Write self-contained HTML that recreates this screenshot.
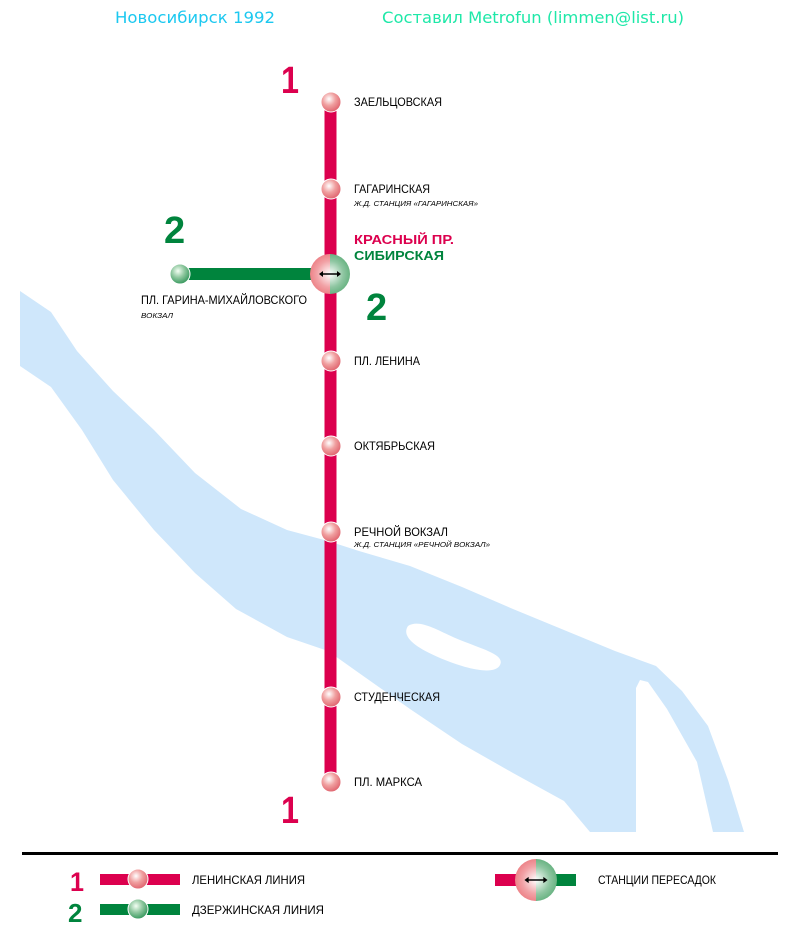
<!DOCTYPE html>
<html><head><meta charset="utf-8"><style>
html,body{margin:0;padding:0;background:#fff;width:800px;height:950px;overflow:hidden}
</style></head><body>
<svg width="800" height="950" viewBox="0 0 800 950" xmlns="http://www.w3.org/2000/svg" font-family="Liberation Sans, sans-serif">
<defs>
<radialGradient id="rg" cx="40%" cy="35%" r="65%"><stop offset="0" stop-color="#fff"/><stop offset="0.5" stop-color="#f0a0a0"/><stop offset="1" stop-color="#e06670"/></radialGradient>
<radialGradient id="gg" cx="40%" cy="35%" r="65%"><stop offset="0" stop-color="#f4fff4"/><stop offset="0.5" stop-color="#90c8a0"/><stop offset="1" stop-color="#3a9a60"/></radialGradient>
<radialGradient id="ig" cx="50%" cy="50%" r="55%"><stop offset="0" stop-color="#fff"/><stop offset="0.6" stop-color="#fff" stop-opacity="0.3"/><stop offset="1" stop-color="#fff" stop-opacity="0"/></radialGradient>
<g id="ic">
<path d="M0,-20 A20,20 0 0 0 0,20 Z" fill="#ec7a80"/>
<path d="M0,-20 A20,20 0 0 1 0,20 Z" fill="#5fae7a"/>
<circle r="20" fill="url(#ig)"/>
<line x1="-9" y1="0" x2="9" y2="0" stroke="#000" stroke-width="1.5"/>
<path d="M-11,0 l4,-3 v6z M11,0 l-4,-3 v6z" fill="#000"/>
</g>
</defs>
<text x="115" y="23" font-size="16" fill="#1cc8f0" font-family="DejaVu Sans, sans-serif" textLength="160" lengthAdjust="spacingAndGlyphs">Новосибирск 1992</text>
<text x="382" y="23" font-size="16" fill="#1ee8a8" font-family="DejaVu Sans, sans-serif" textLength="302" lengthAdjust="spacingAndGlyphs">Составил Metrofun (limmen@list.ru)</text>
<!-- river -->
<path fill="#cfe7fb" d="M20,291 L51,312 77,351 113,391 154,430 195,473 241,509 287,530 328,541 359,551 410,566 462,587 513,609 564,630 615,651 656,666 682,691 708,726 728,780 744,832 713,832 697,762 667,709 648,682 640,680 636,688 636,832 590,832 564,801 513,773 462,744 410,709 359,673 328,651 287,637 236,609 195,573 154,530 113,480 82,430 51,387 20,366Z"/>
<path fill="#fff" d="M408,626 C420,618 440,632 460,640 C485,650 505,655 500,665 C495,675 470,670 445,660 C420,650 400,638 408,626Z"/>
<!-- line 1 -->
<rect x="324.5" y="100" width="12" height="682" fill="#dc004e"/>
<!-- line 2 -->
<rect x="180" y="268" width="140" height="12" fill="#00843d"/>
<g fill="url(#rg)" stroke="#fff" stroke-width="1">
<circle cx="331" cy="102" r="10"/><circle cx="331" cy="189" r="10"/><circle cx="331" cy="361" r="10"/><circle cx="331" cy="446" r="10"/><circle cx="331" cy="532" r="10"/><circle cx="331" cy="697" r="10"/><circle cx="331" cy="782" r="10"/>
</g>
<circle cx="180" cy="274" r="10" fill="url(#gg)" stroke="#fff"/>
<use href="#ic" x="330" y="274"/>
<g font-weight="bold" font-size="38">
<text x="281" y="93" fill="#dc004e" textLength="18" lengthAdjust="spacingAndGlyphs">1</text>
<text x="281" y="823" fill="#dc004e" textLength="18" lengthAdjust="spacingAndGlyphs">1</text>
<text x="164" y="243" fill="#00843d">2</text>
<text x="366" y="320" fill="#00843d">2</text>
</g>
<g font-size="12" fill="#000">
<text x="354" y="106" textLength="88" lengthAdjust="spacingAndGlyphs">ЗАЕЛЬЦОВСКАЯ</text>
<text x="354" y="193" textLength="76" lengthAdjust="spacingAndGlyphs">ГАГАРИНСКАЯ</text>
<text x="354" y="365" textLength="66" lengthAdjust="spacingAndGlyphs">ПЛ. ЛЕНИНА</text>
<text x="354" y="450" textLength="81" lengthAdjust="spacingAndGlyphs">ОКТЯБРЬСКАЯ</text>
<text x="354" y="536" textLength="94" lengthAdjust="spacingAndGlyphs">РЕЧНОЙ ВОКЗАЛ</text>
<text x="354" y="701" textLength="86" lengthAdjust="spacingAndGlyphs">СТУДЕНЧЕСКАЯ</text>
<text x="354" y="786" textLength="68" lengthAdjust="spacingAndGlyphs">ПЛ. МАРКСА</text>
<text x="141" y="304" textLength="166" lengthAdjust="spacingAndGlyphs">ПЛ. ГАРИНА-МИХАЙЛОВСКОГО</text>
</g>
<g font-size="7" font-style="italic" fill="#000">
<text x="354" y="206" textLength="124" lengthAdjust="spacingAndGlyphs">Ж.Д. СТАНЦИЯ «ГАГАРИНСКАЯ»</text>
<text x="354" y="547" textLength="136" lengthAdjust="spacingAndGlyphs">Ж.Д. СТАНЦИЯ «РЕЧНОЙ ВОКЗАЛ»</text>
<text x="141" y="318" textLength="32" lengthAdjust="spacingAndGlyphs">ВОКЗАЛ</text>
</g>
<text x="354" y="244" font-size="13" font-weight="bold" fill="#dc004e" textLength="100" lengthAdjust="spacingAndGlyphs">КРАСНЫЙ ПР.</text>
<text x="354" y="260" font-size="13" font-weight="bold" fill="#00843d" textLength="90" lengthAdjust="spacingAndGlyphs">СИБИРСКАЯ</text>
<!-- legend -->
<rect x="22" y="852" width="756" height="3" fill="#000"/>
<text x="70" y="891" font-size="27" font-weight="bold" fill="#dc004e" textLength="14" lengthAdjust="spacingAndGlyphs">1</text>
<text x="68" y="922" font-size="26" font-weight="bold" fill="#00843d">2</text>
<rect x="100" y="874" width="80" height="11" fill="#dc004e"/>
<circle cx="138" cy="879" r="10" fill="url(#rg)" stroke="#fff"/>
<rect x="100" y="904" width="80" height="11" fill="#00843d"/>
<circle cx="138" cy="909" r="10" fill="url(#gg)" stroke="#fff"/>
<g font-size="12" fill="#000">
<text x="192" y="884" textLength="113" lengthAdjust="spacingAndGlyphs">ЛЕНИНСКАЯ ЛИНИЯ</text>
<text x="192" y="914" textLength="132" lengthAdjust="spacingAndGlyphs">ДЗЕРЖИНСКАЯ ЛИНИЯ</text>
<text x="598" y="884" textLength="118" lengthAdjust="spacingAndGlyphs">СТАНЦИИ ПЕРЕСАДОК</text>
</g>
<rect x="495" y="874" width="25" height="12" fill="#dc004e"/>
<rect x="550" y="874" width="26" height="12" fill="#00843d"/>
<use href="#ic" x="536" y="880" transform="translate(536,880) scale(1.05) translate(-536,-880)"/>
</svg>
</body></html>
